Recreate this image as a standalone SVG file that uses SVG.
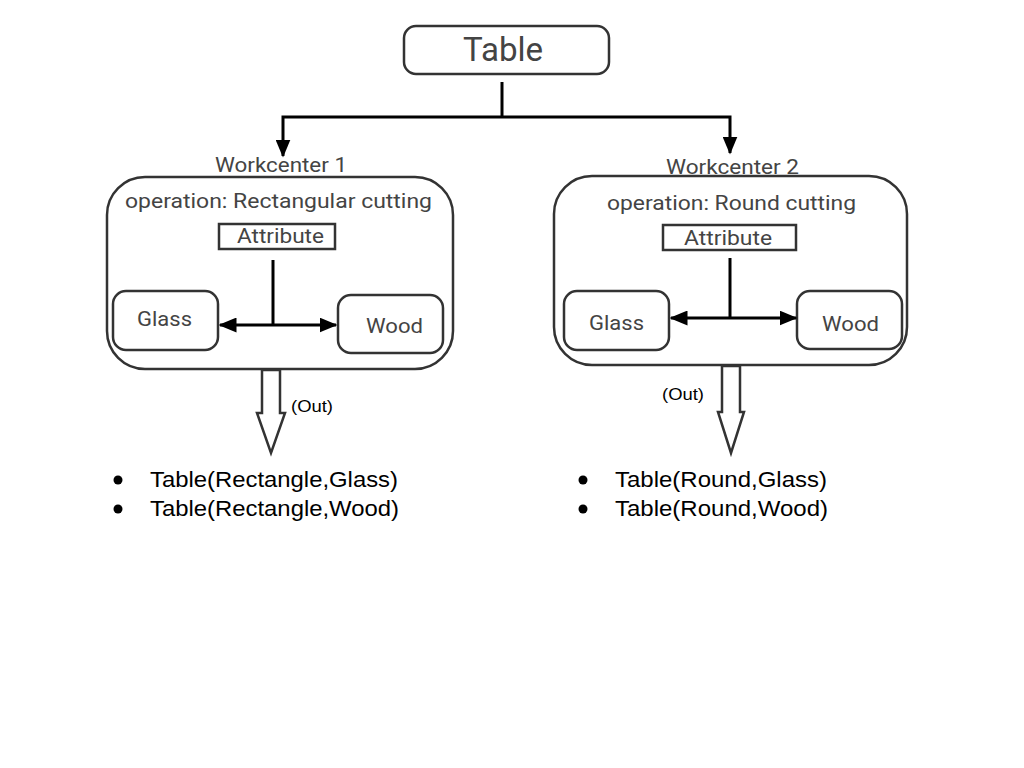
<svg xmlns="http://www.w3.org/2000/svg" width="1024" height="768" viewBox="0 0 1024 768">
<style>
.box{fill:#fff;stroke:#333;stroke-width:2.5}
.lbl{font-family:Roboto,"Liberation Sans",sans-serif;fill:#444}
.con{fill:none;stroke:#000;stroke-width:3}
.out{fill:#fff;stroke:#333;stroke-width:2.5;stroke-linejoin:miter}
.blt{font-family:"Liberation Sans",Arial,sans-serif;fill:#000;font-size:22px}
.sm{font-family:"Liberation Sans",Arial,sans-serif;fill:#000;font-size:17px}
</style>
<defs>
<marker id="ah" viewBox="0 0 12 10" refX="11" refY="5" markerWidth="6" markerHeight="5" orient="auto" markerUnits="strokeWidth">
<path d="M0,0 L12,5 L0,10 z" fill="#000"/>
</marker>
</defs>
<rect width="1024" height="768" fill="#fff"/>
<g id="table">
<rect class="box" x="404" y="26" width="205" height="48" rx="12"/>
<text class="lbl" x="463" y="61" font-size="33" textLength="80" lengthAdjust="spacingAndGlyphs">Table</text>
</g>
<g id="wc1">
<rect class="box" x="107" y="177" width="346" height="192" rx="38"/>
<text class="lbl" x="215" y="172" font-size="21" textLength="132" lengthAdjust="spacingAndGlyphs">Workcenter 1</text>
<text class="lbl" x="125" y="208" font-size="21" textLength="307" lengthAdjust="spacingAndGlyphs">operation: Rectangular cutting</text>
</g>
<g id="wc1-attr">
<rect class="box" x="219" y="224" width="116" height="25" rx="0"/>
<text class="lbl" x="237" y="243" font-size="20" textLength="87" lengthAdjust="spacingAndGlyphs">Attribute</text>
</g>
<g id="wc1-glass">
<rect class="box" x="113" y="291" width="105" height="59" rx="13"/>
<text class="lbl" x="137" y="326" font-size="21" textLength="55" lengthAdjust="spacingAndGlyphs">Glass</text>
</g>
<g id="wc1-wood">
<rect class="box" x="338" y="295" width="105" height="58" rx="13"/>
<text class="lbl" x="366" y="333" font-size="21" textLength="57" lengthAdjust="spacingAndGlyphs">Wood</text>
</g>
<g id="wc2">
<rect class="box" x="554" y="176" width="353" height="189" rx="38"/>
<text class="lbl" x="666" y="174" font-size="21" textLength="133" lengthAdjust="spacingAndGlyphs">Workcenter 2</text>
<text class="lbl" x="607" y="210" font-size="21" textLength="249" lengthAdjust="spacingAndGlyphs">operation: Round cutting</text>
</g>
<g id="wc2-attr">
<rect class="box" x="663" y="225" width="133" height="25" rx="0"/>
<text class="lbl" x="684" y="245" font-size="20" textLength="88" lengthAdjust="spacingAndGlyphs">Attribute</text>
</g>
<g id="wc2-glass">
<rect class="box" x="564" y="291" width="105" height="59" rx="13"/>
<text class="lbl" x="589" y="330" font-size="21" textLength="55" lengthAdjust="spacingAndGlyphs">Glass</text>
</g>
<g id="wc2-wood">
<rect class="box" x="797" y="291" width="105" height="58" rx="13"/>
<text class="lbl" x="822" y="331" font-size="21" textLength="57" lengthAdjust="spacingAndGlyphs">Wood</text>
</g>
<g id="connectors">
<path class="con" d="M502,82 V117"/>
<path class="con" d="M502,117 H283 V156" marker-end="url(#ah)"/>
<path class="con" d="M502,117 H730 V153" marker-end="url(#ah)"/>
<path class="con" d="M273,260 V325"/>
<path class="con" d="M273,325 H220" marker-end="url(#ah)"/>
<path class="con" d="M273,325 H336" marker-end="url(#ah)"/>
<path class="con" d="M730,258 V318"/>
<path class="con" d="M730,318 H671" marker-end="url(#ah)"/>
<path class="con" d="M730,318 H796" marker-end="url(#ah)"/>
<path class="out" d="M262,370 H280 V413 H285 L271,453 L257,413 H262 Z"/>
<path class="out" d="M722,366 H740 V412 H744 L731,453 L718,412 H722 Z"/>
<text class="sm" x="291" y="412" textLength="42" lengthAdjust="spacingAndGlyphs">(Out)</text>
<text class="sm" x="662" y="400" textLength="42" lengthAdjust="spacingAndGlyphs">(Out)</text>
</g>
<g id="list1">
<circle cx="118" cy="480" r="4.5" fill="#000"/>
<circle cx="118" cy="509" r="4.5" fill="#000"/>
<text class="blt" x="150" y="487" textLength="248" lengthAdjust="spacingAndGlyphs">Table(Rectangle,Glass)</text>
<text class="blt" x="150" y="516" textLength="249" lengthAdjust="spacingAndGlyphs">Table(Rectangle,Wood)</text>
</g>
<g id="list2">
<circle cx="583" cy="480" r="4.5" fill="#000"/>
<circle cx="583" cy="509" r="4.5" fill="#000"/>
<text class="blt" x="615" y="487" textLength="212" lengthAdjust="spacingAndGlyphs">Table(Round,Glass)</text>
<text class="blt" x="615" y="516" textLength="213" lengthAdjust="spacingAndGlyphs">Table(Round,Wood)</text>
</g>
</svg>
